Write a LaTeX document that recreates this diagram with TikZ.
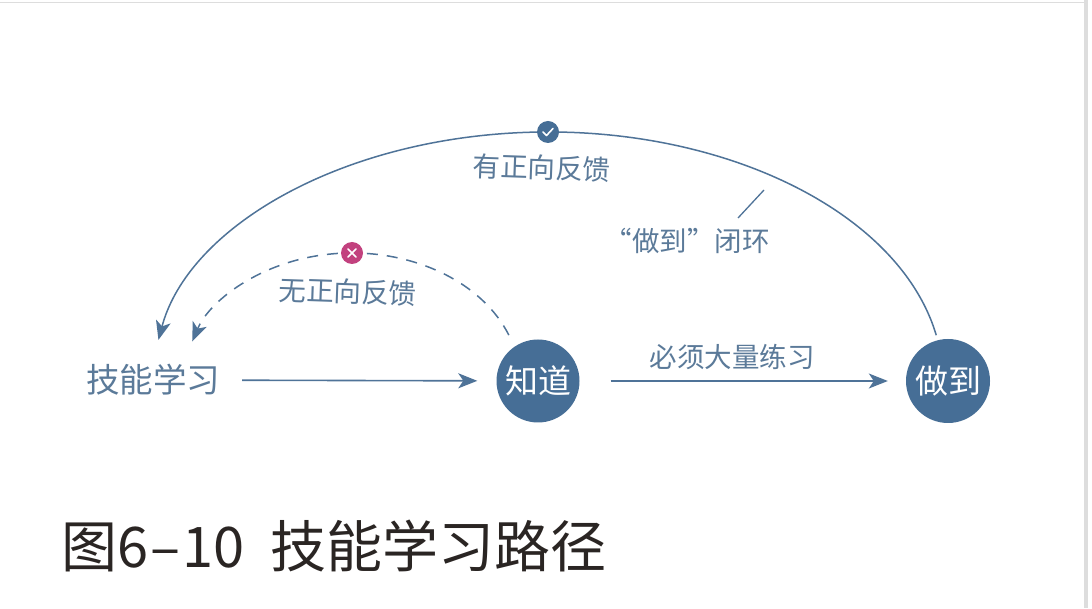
\documentclass[tikz,border=0pt]{standalone}
\usepackage{fontspec}
\setmainfont{Noto Sans CJK SC}
\usetikzlibrary{arrows.meta,calc}
\definecolor{lineblue}{HTML}{4F7398}
\definecolor{circfill}{HTML}{466E96}
\definecolor{textblue}{HTML}{5B7A99}
\definecolor{markred}{HTML}{C2417E}
\definecolor{titlecol}{HTML}{2A2523}
\definecolor{edgegray}{HTML}{DDDDDD}
\tikzset{
  arr/.style={draw=lineblue, line width=1.6pt, -{Stealth[length=19pt,width=15pt,inset=5pt]}},
  lbl/.style={text=textblue, inner sep=0pt, font=\fontsize{27.5}{27.5}\selectfont},
  bigcirc/.style={circle, fill=circfill, text=white, inner sep=0pt, font=\fontsize{33}{33}\selectfont},
  markdot/.style={circle, inner sep=0pt, minimum size=22pt},
}
\begin{document}
\begin{tikzpicture}[x=1pt,y=1pt]
\useasboundingbox (0,0) rectangle (1092,608);
\fill[white] (0,0) rectangle (1092,608);
\draw[edgegray, line width=1pt] (0,605) -- (1084,605);
\fill[edgegray] (1084,0) rectangle (1088,608);

% nodes
\node[lbl, font=\fontsize{33.5}{33.5}\selectfont] (skill) at (153,228) {技能学习};
\node[bigcirc, minimum size=83pt] (know) at (538,227) {知道};
\node[bigcirc, minimum size=84pt] (do) at (948,227) {做到};

% straight arrows
\draw[arr, shorten <=22pt, shorten >=19pt] (skill) -- (know);
\draw[arr, shorten <=31pt, shorten >=18pt] (know) -- (do);
\node[lbl] (practice) at (732,251) {必须大量练习};

% big feedback arc
\coordinate (bigc) at (548,227);
\coordinate (bigs) at ($(bigc)+(10.6:395 and 249)$);
\draw[arr, line width=1.5pt] (bigs) arc[start angle=10.6, end angle=170.5, x radius=395, y radius=249];
\node[markdot, fill=circfill] (ok) at ($(bigc)+(90:395 and 249)$) {};
\draw[white, line width=1.6pt, line cap=round, line join=round]
  ($(ok)+(-5,0)$) -- ($(ok)+(-1.5,-3.5)$) -- ($(ok)+(5,3.5)$);
\node[lbl, rotate=-2] (pos) at (542,440) {有正向反馈};

% dashed arc
\coordinate (smc) at (352,227);
\coordinate (sms) at ($(smc)+(21:168 and 128)$);
\draw[arr, line width=1.5pt, dash pattern=on 11pt off 9pt] (sms) arc[start angle=21, end angle=162, x radius=168, y radius=128];
\node[markdot, fill=markred] (no) at ($(smc)+(90:168 and 128)$) {};
\draw[white, line width=1.6pt, line cap=round]
  ($(no)+(-4,-4)$) -- ($(no)+(4,4)$)
  ($(no)+(-4,4)$) -- ($(no)+(4,-4)$);
\node[lbl, rotate=-2] (neg) at (348,316) {无正向反馈};

% loop label with leader
\node[lbl] (loop) at (687,367) {“做到”闭环};
\coordinate (lead) at (764,418);
\draw[lineblue, line width=1.3pt] (738,390) -- (lead);

% title
\node[anchor=west, inner sep=0pt, text=titlecol, font=\fontsize{56}{56}\selectfont] (title) at (61,62) {图6\kern2pt–\kern2pt10\hspace{26pt}技能学习路径};
\end{tikzpicture}
\end{document}
